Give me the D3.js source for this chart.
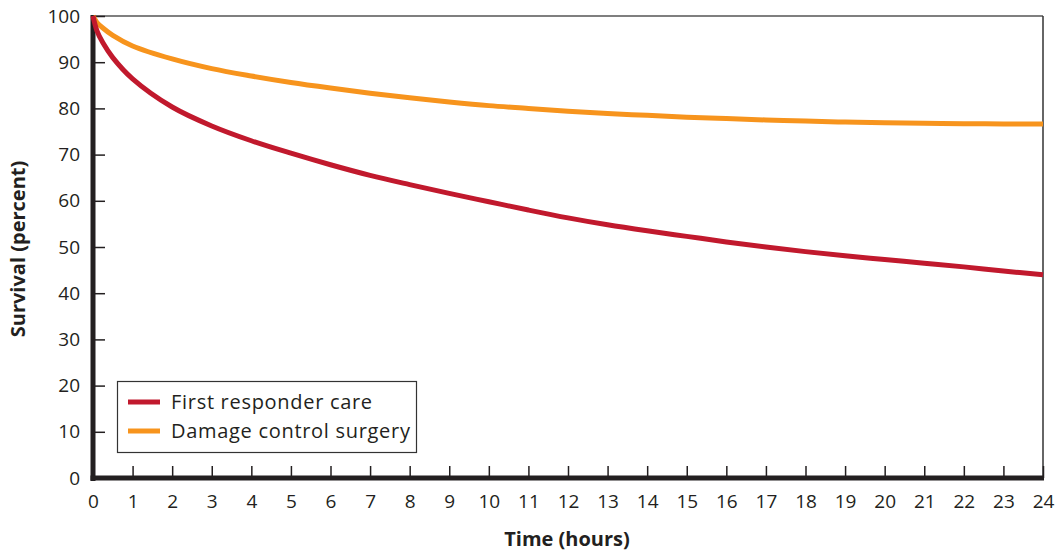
<!DOCTYPE html>
<html><head><meta charset="utf-8">
<script src="https://cdn.jsdelivr.net/npm/d3@7"></script>
<style>body{margin:0;background:#fff;} svg{display:block;font-family:"Open Sans",sans-serif;}</style>
</head><body>
<svg id="c" width="1060" height="554"></svg>
<script>
const hours = [0,0.1,0.25,0.5,1,2,3,4,5,6,7,8,9,10,11,12,13,14,15,16,17,18,19,20,21,22,23,24];
const firstResponder = [100,96.8,94.2,91.0,86.4,80.3,76.2,73.0,70.3,67.8,65.5,63.5,61.6,59.8,58.0,56.3,54.8,53.5,52.3,51.1,50.0,49.0,48.1,47.3,46.5,45.7,44.8,44.0];
const damageControl = [100,98.6,97.4,95.8,93.5,90.7,88.6,87.0,85.6,84.4,83.3,82.3,81.4,80.6,80.0,79.4,78.9,78.5,78.1,77.8,77.5,77.25,77.05,76.9,76.8,76.7,76.65,76.6];
const xTicks = d3.range(0,25,1);
const yTicks = d3.range(0,101,10);
const seriesNames = ["First responder care","Damage control surgery"];
const seriesColors = ["#C1192D","#F7941D"];

const svg = d3.select("#c");
const x = d3.scaleLinear().domain([0,24]).range([93,1043]);
const y = d3.scaleLinear().domain([0,100]).range([478,16]);

// frame top and right
svg.append("line").attr("x1",93).attr("x2",1043).attr("y1",y(100)).attr("y2",y(100)).attr("stroke","#555").attr("stroke-width",1.5);
svg.append("line").attr("x1",x(24)).attr("x2",x(24)).attr("y1",16).attr("y2",478).attr("stroke","#333").attr("stroke-width",1.5);

// y axis
const ya = svg.append("g").attr("transform",`translate(${x(0)},0)`)
  .call(d3.axisLeft(y).tickValues(yTicks).tickSizeInner(-12).tickSizeOuter(0).tickPadding(13));
ya.select(".domain").remove();
ya.selectAll(".tick line").attr("stroke","#231f20").attr("stroke-width",1.5);
ya.selectAll(".tick text").attr("font-size",19).attr("fill","#231f20").attr("font-family","Open Sans");

// x axis
const xa = svg.append("g").attr("transform",`translate(0,${y(0)})`)
  .call(d3.axisBottom(x).tickValues(xTicks).tickSizeInner(-12).tickSizeOuter(0).tickPadding(13));
xa.select(".domain").remove();
xa.selectAll(".tick line").attr("stroke","#231f20").attr("stroke-width",1.5);
xa.selectAll(".tick text").attr("font-size",19).attr("fill","#231f20").attr("font-family","Open Sans").attr("dy","0.9em");

// thick axes
svg.append("line").attr("x1",x(0)).attr("x2",x(0)).attr("y1",15).attr("y2",481).attr("stroke","#231f20").attr("stroke-width",5);
svg.append("line").attr("x1",x(0)-2.5).attr("x2",x(24)+1).attr("y1",y(0)).attr("y2",y(0)).attr("stroke","#231f20").attr("stroke-width",5);

// lines
const line = d3.line().x((d,i)=>x(hours[i])).y(d=>y(d)).curve(d3.curveCatmullRom.alpha(0.5));
[damageControl, firstResponder].forEach((s,k)=>{
  const idx = k===0?1:0;
  svg.append("path").attr("d",line(s)).attr("fill","none").attr("stroke",seriesColors[idx]).attr("stroke-width",5);
});

// legend
svg.append("rect").attr("x",117.5).attr("y",381.5).attr("width",299).attr("height",71).attr("fill","#fff").attr("stroke","#333").attr("stroke-width",1.2);
seriesNames.forEach((n,i)=>{
  const yy = 402 + i*29;
  svg.append("line").attr("x1",128).attr("x2",160).attr("y1",yy).attr("y2",yy).attr("stroke",seriesColors[i]).attr("stroke-width",5);
  svg.append("text").attr("x",171).attr("y",yy).attr("dy","0.35em").attr("font-size",20).attr("letter-spacing","0.7px").attr("fill","#231f20").text(n);
});

// titles
svg.append("text").attr("x",567).attr("y",546).attr("text-anchor","middle").attr("font-size",20).attr("font-weight","bold").attr("fill","#231f20").text("Time (hours)");
svg.append("text").attr("transform","translate(25,249) rotate(-90)").attr("text-anchor","middle").attr("font-size",20).attr("font-weight","bold").attr("fill","#231f20").text("Survival (percent)");
</script>
</body></html>
